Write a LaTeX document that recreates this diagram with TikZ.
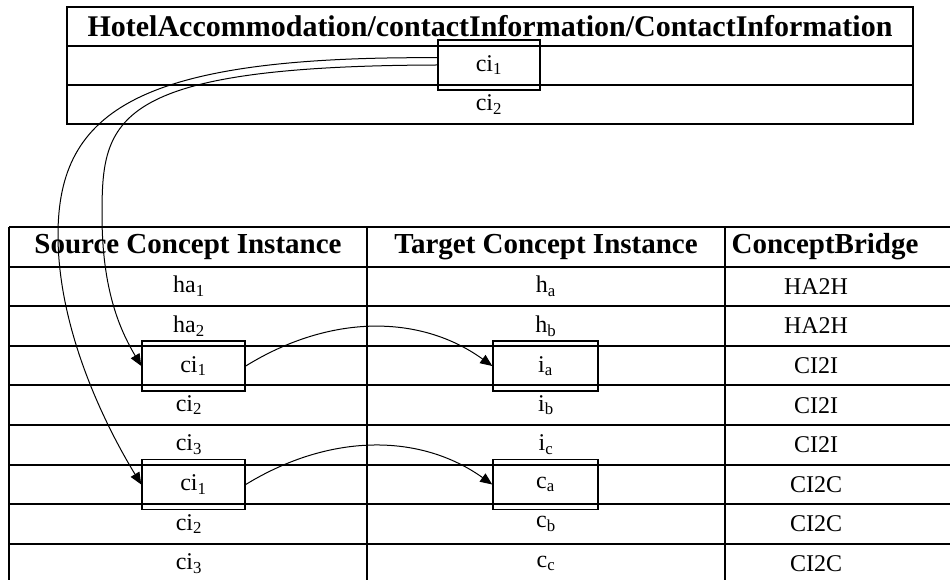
\documentclass[tikz,border=0pt]{standalone}
\usepackage{fontspec}
\setmainfont{Liberation Serif}
\usetikzlibrary{arrows.meta}
\newcommand{\lowidx}[1]{\textsubscript{#1}}
\tikzset{
  tablerule/.style={line width=1.5pt},
  headcell/.style={inner sep=0.75pt, font=\fontsize{21.75}{26}\selectfont\bfseries},
  bodycell/.style={inner sep=0.75pt, font=\fontsize{18}{22}\selectfont},
  markbox/.style={draw, line width=1.1pt, minimum width=77.25pt, minimum height=37.5pt, inner sep=0pt, font=\fontsize{18}{22}\selectfont},
  link/.style={line width=0.75pt, -{Triangle[length=9pt,width=7.5pt]}}
}
\begin{document}
\begin{tikzpicture}[x=0.75pt,y=0.75pt,yscale=-1,xscale=1]
            \useasboundingbox (0,0) rectangle (950,580);

            %Top table
            \draw [tablerule] (67,7) rectangle (913,124) ;
            \draw [tablerule] (67,46) -- (913,46) ;
            \draw [tablerule] (67,85) -- (913,85) ;

            %Bottom table: rows
            \draw [tablerule] (9,227) -- (950,227) ;
            \draw [tablerule] (9,266.6) -- (950,266.6) ;
            \draw [tablerule] (9,306.2) -- (950,306.2) ;
            \draw [tablerule] (9,345.8) -- (950,345.8) ;
            \draw [tablerule] (9,385.4) -- (950,385.4) ;
            \draw [tablerule] (9,425) -- (950,425) ;
            \draw [tablerule] (9,464.6) -- (950,464.6) ;
            \draw [tablerule] (9,504.2) -- (950,504.2) ;
            \draw [tablerule] (9,543.8) -- (950,543.8) ;
            %Bottom table: columns
            \draw [tablerule] (9,227) -- (9,581) ;
            \draw [tablerule] (367,227) -- (367,581) ;
            \draw [tablerule] (725,227) -- (725,581) ;

            % Text Node
            \node (topHead) at (490,26.5) [headcell, font=\fontsize{22.5}{26}\selectfont\bfseries] {HotelAccommodation/contactInformation/ContactInformation};
            % Text Node
            \node (topCiOne) at (489,65) [markbox, minimum width=76.5pt] {ci\lowidx{1}};
            % Text Node
            \node (topCiTwo) at (489,104.5) [bodycell] {ci\lowidx{2}};

            % Text Node
            \node (srcHead) at (188,246.8) [headcell] {Source Concept Instance};
            % Text Node
            \node (tgtHead) at (546,246.8) [headcell] {Target Concept Instance};
            % Text Node
            \node (brgHead) at (825,246.8) [headcell] {ConceptBridge};

            % Text Node
            \node (srcHaOne) at (189,286.4) [bodycell] {ha\lowidx{1}};
            \node (tgtHa) at (546,286.4) [bodycell] {h\lowidx{a}};
            \node (brgOne) at (816,286.4) [bodycell] {HA2H};
            % Text Node
            \node (srcHaTwo) at (189,326) [bodycell] {ha\lowidx{2}};
            \node (tgtHb) at (546,326) [bodycell] {h\lowidx{b}};
            \node (brgTwo) at (816,326) [bodycell] {HA2H};
            % Text Node
            \node (srcCiA) at (193.5,366) [markbox] {ci\lowidx{1}};
            \node (tgtIa) at (545.5,366) [markbox, minimum width=78.75pt] {i\lowidx{a}};
            \node (brgThree) at (816,365.6) [bodycell] {CI2I};
            % Text Node
            \node (srcCiTwoA) at (189,405.2) [bodycell] {ci\lowidx{2}};
            \node (tgtIb) at (546,405.2) [bodycell] {i\lowidx{b}};
            \node (brgFour) at (816,405.2) [bodycell] {CI2I};
            % Text Node
            \node (srcCiThreeA) at (189,444.8) [bodycell] {ci\lowidx{3}};
            \node (tgtIc) at (546,444.8) [bodycell] {i\lowidx{c}};
            \node (brgFive) at (816,444.8) [bodycell] {CI2I};
            % Text Node
            \node (srcCiB) at (193.5,484.5) [markbox] {ci\lowidx{1}};
            \node (tgtCa) at (545.5,484.5) [markbox, minimum width=78.75pt] {c\lowidx{a}};
            \node (brgSix) at (816,484.4) [bodycell] {CI2C};
            % Text Node
            \node (srcCiTwoB) at (189,524) [bodycell] {ci\lowidx{2}};
            \node (tgtCb) at (546,524) [bodycell] {c\lowidx{b}};
            \node (brgSeven) at (816,524) [bodycell] {CI2C};
            % Text Node
            \node (srcCiThreeB) at (189,563.6) [bodycell] {ci\lowidx{3}};
            \node (tgtCc) at (546,563.6) [bodycell] {c\lowidx{c}};
            \node (brgEight) at (816,563.6) [bodycell] {CI2C};

            %Curve Lines: top ci to source boxes
            \draw [link] (topCiOne.180) .. controls (110,66) and (102,120) .. (102,215) .. controls (102,290) and (120,330) .. (srcCiA.west) ;
            \draw [link] (topCiOne.172) .. controls (140,56) and (58,110) .. (58,235) .. controls (58,330) and (105,425) .. (srcCiB.west) ;
            %Curve Lines: source boxes to target boxes
            \draw [link] (srcCiA.east) .. controls (330,314) and (420,314) .. (tgtIa.west) ;
            \draw [link] (srcCiB.east) .. controls (330,433) and (420,433) .. (tgtCa.west) ;

\end{tikzpicture}
\end{document}
